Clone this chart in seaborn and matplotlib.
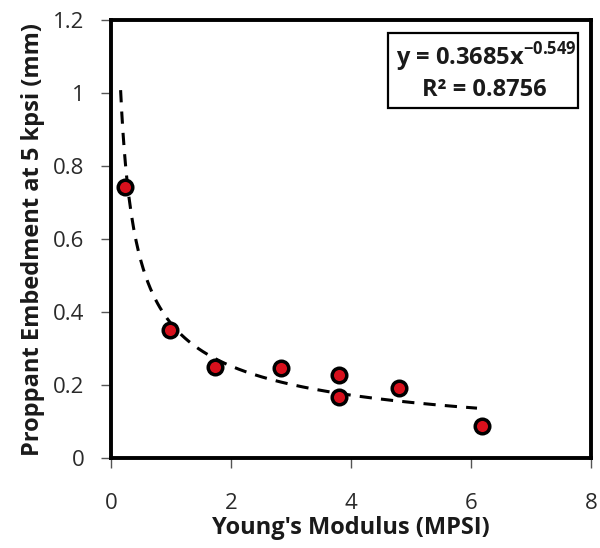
import numpy as np
import pandas as pd
import matplotlib
matplotlib.use("Agg")
import matplotlib.pyplot as plt
from matplotlib.patches import Rectangle
import seaborn as sns

# Data
modulus = [0.23, 0.98, 1.73, 2.83, 3.80, 3.80, 4.80, 6.19]
embedment = [0.742, 0.351, 0.250, 0.246, 0.227, 0.168, 0.191, 0.088]
fit_a = 0.3685
fit_b = -0.549
fit_xmin, fit_xmax = 0.16, 6.1
xticks = [0, 2, 4, 6, 8]
yticks = [0, 0.2, 0.4, 0.6, 0.8, 1.0, 1.2]
ytick_labels = ["0", "0.2", "0.4", "0.6", "0.8", "1", "1.2"]

sns.set_theme(style="white")
plt.rcParams['font.family'] = ['Open Sans', 'DejaVu Sans']
plt.rcParams['mathtext.fontset'] = 'custom'
plt.rcParams['mathtext.rm'] = 'Open Sans'
plt.rcParams['mathtext.bf'] = 'Open Sans:bold'

df = pd.DataFrame({"x": modulus, "y": embedment})
xf = np.linspace(fit_xmin, fit_xmax, 300)
fit_df = pd.DataFrame({"x": xf, "y": fit_a * xf ** fit_b})

W, H = 600, 548
L, R, T, B = 111, 591, 20, 458
fig = plt.figure(figsize=(W / 100, H / 100), dpi=100)
ax = fig.add_axes([L / W, 1 - B / H, (R - L) / W, (B - T) / H])

sns.lineplot(data=fit_df, x="x", y="y", ax=ax, color="black", lw=2.2,
             linestyle=(0, (4, 3)), zorder=2)
sns.scatterplot(data=df, x="x", y="y", ax=ax, color="#d8101c", edgecolor="black",
                linewidth=2.5, s=110, zorder=3)

ax.set_xlim(0, 8)
ax.set_ylim(0, 1.2)
ax.set_xticks(xticks)
ax.set_xticklabels([str(t) for t in xticks])
ax.set_yticks(yticks)
ax.set_yticklabels(ytick_labels)
ax.tick_params(axis='both', which='both', direction='out', length=7, width=1.0,
               labelsize=16, color='#555555', labelcolor='#2a2a2a',
               bottom=True, left=True)
ax.tick_params(axis='x', pad=18)
ax.tick_params(axis='y', pad=12)
for sp in ax.spines.values():
    sp.set_linewidth(2.8)
    sp.set_color('black')

ax.set_xlabel("Young's Modulus (MPSI)", fontsize=17, fontweight='bold',
              labelpad=2, color='#1a1a1a')
ax.set_ylabel("Proppant Embedment at 5 kpsi (mm)", fontsize=17, fontweight='bold',
              labelpad=6, color='#1a1a1a')

def ax_xy(px, py):
    return (px - L) / (R - L), (B - py) / (B - T)

x0, y1 = ax_xy(388, 33)
x1, y0 = ax_xy(578, 108)
ax.add_patch(Rectangle((x0, y0), x1 - x0, y1 - y0, transform=ax.transAxes,
                       fc='white', ec='black', lw=1.6, zorder=4, clip_on=False))
tx, ty = ax_xy(486, 57)
ax.text(tx, ty, "y = 0.3685x$^{\\mathbf{-0.549}}$", transform=ax.transAxes,
        ha='center', va='center', fontsize=17, fontweight='bold', zorder=5,
        color='#1a1a1a')
tx, ty = ax_xy(484, 90)
ax.text(tx, ty, "R² = 0.8756", transform=ax.transAxes,
        ha='center', va='center', fontsize=17, fontweight='bold', zorder=5,
        color='#1a1a1a')

fig.savefig("out.png", dpi=100)
